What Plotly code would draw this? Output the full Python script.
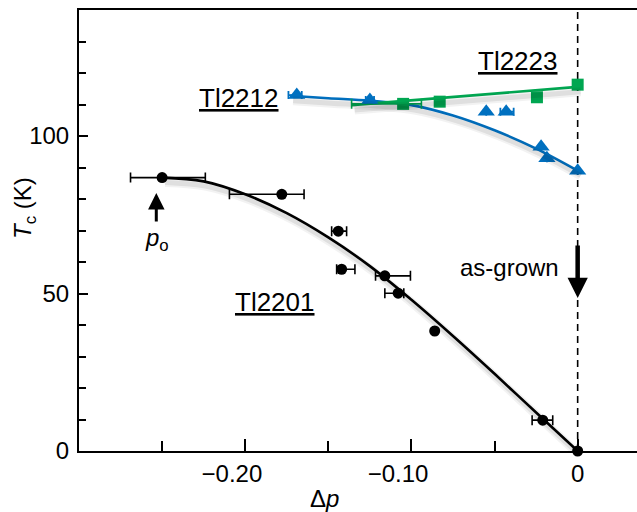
import plotly.graph_objects as go

# ---------------- data ----------------
# Tl2201 (black circles)
tl2201_dp = [-0.250, -0.178, -0.144, -0.142, -0.116, -0.108, -0.086, -0.021, 0.0]
tl2201_tc = [86.8, 81.5, 69.8, 57.7, 55.6, 50.1, 38.1, 9.8, 0.0]
tl2201_err_minus = [0.019, 0.0315, 0.004, 0.003, 0.0056, 0.008, 0.001, 0.0064, 0.0]
tl2201_err_plus = [0.026, 0.0134, 0.005, 0.008, 0.0154, 0.0034, 0.001, 0.006, 0.0]

# Tl2212 (blue triangles)
tl2212_dp = [-0.169, -0.125, -0.055, -0.043, -0.022, -0.0185, 0.0]
tl2212_tc = [113.0, 111.4, 107.7, 107.7, 96.6, 92.9, 89.0]
tl2212_err_minus = [0.005, 0.0025, 0.0, 0.0035, 0.0, 0.0, 0.0]
tl2212_err_plus = [0.003, 0.0025, 0.0, 0.0045, 0.0, 0.0, 0.0]

# Tl2223 (green squares)
tl2223_dp = [-0.105, -0.083, -0.0245, 0.0]
tl2223_tc = [110.2, 110.9, 112.3, 116.3]
tl2223_err_minus = [0.031, 0.0, 0.0, 0.0]
tl2223_err_plus = [0.011, 0.0, 0.0, 0.0]

# guide curves
fit2201_dp = [-0.25, -0.225, -0.20, -0.175, -0.15, -0.125, -0.10, -0.075, -0.05, -0.025, 0.0]
fit2201_tc = [86.8, 85.6, 81.5, 75.5, 67.8, 58.7, 48.0, 36.5, 24.5, 12.2, 0.0]
fit2212_dp = [-0.173, -0.15, -0.125, -0.10, -0.075, -0.05, -0.025, 0.0]
fit2212_tc = [112.8, 112.0, 111.2, 109.8, 106.5, 101.8, 96.0, 89.0]
fit2223_dp = [-0.136, 0.0]
fit2223_tc = [109.8, 115.6]

# axes
x_range = [-0.30, 0.0357]
y_range = [0, 140]
x_tickvals = [-0.20, -0.10, 0.0]
PAD = "\u00a0" * 4  # the minus sign hangs left of the centred number
x_ticktext = ["\u22120.20" + PAD, "\u22120.10" + PAD, "0"]
x_minorvals = [-0.25, -0.15, -0.05]
y_tickvals = [0, 50, 100]
y_ticktext = ["0", "50", "100"]

# annotation anchors
asgrown_tip, asgrown_tail = 48.6, 65.7
po_dp, po_tip, po_tail = -0.2535, 81.9, 72.4

BLACK = "#000000"
BLUE = "#0070C0"
GREEN = "#00A651"
FONT = "Liberation Sans, Arial, Helvetica, sans-serif"
FS = 24
FS_LABEL = 26

W, H = 637, 512
ML, MR, MT, MB = 79, 0, 10, 61
plot_w = W - ML - MR
plot_h = H - MT - MB

# shadow offset in pixels -> shifted ranges for an overlay axis pair
sx, sy = 3, 5
dx = sx * (x_range[1] - x_range[0]) / plot_w
dy = sy * (y_range[1] - y_range[0]) / plot_h
x2_range = [x_range[0] - dx, x_range[1] - dx]
y2_range = [y_range[0] + dy, y_range[1] + dy]

fig = go.Figure()

# soft shadows under guide curves
for xs, ys in [(fit2201_dp, fit2201_tc), (fit2212_dp, fit2212_tc), (fit2223_dp, fit2223_tc)]:
    for wdt, alpha in [(9, 0.05), (5, 0.08)]:
        fig.add_trace(go.Scatter(x=xs, y=ys, mode="lines", xaxis="x2", yaxis="y2",
                                 line=dict(color=f"rgba(0,0,0,{alpha})", width=wdt, shape="spline"),
                                 hoverinfo="skip", showlegend=False))

# dashed vertical line at Δp = 0
fig.add_trace(go.Scatter(x=[0, 0], y=y_range, mode="lines",
                         line=dict(color=BLACK, width=1.6, dash="7px,5px"),
                         hoverinfo="skip", showlegend=False, cliponaxis=False))

# guide curves
fig.add_trace(go.Scatter(x=fit2201_dp, y=fit2201_tc, mode="lines",
                         line=dict(color=BLACK, width=2.6, shape="spline", smoothing=1),
                         showlegend=False, cliponaxis=False))
fig.add_trace(go.Scatter(x=fit2212_dp, y=fit2212_tc, mode="lines",
                         line=dict(color=BLUE, width=2.6, shape="spline", smoothing=1),
                         showlegend=False, cliponaxis=False))
fig.add_trace(go.Scatter(x=fit2223_dp, y=fit2223_tc, mode="lines",
                         line=dict(color=GREEN, width=2.6),
                         showlegend=False, cliponaxis=False))

# data points
fig.add_trace(go.Scatter(x=tl2223_dp, y=tl2223_tc, mode="markers",
                         marker=dict(symbol="square", size=12, color=GREEN),
                         error_x=dict(type="data", symmetric=False, array=tl2223_err_plus,
                                      arrayminus=tl2223_err_minus, color=GREEN, thickness=1.6, width=5),
                         showlegend=False, cliponaxis=False))
fig.add_trace(go.Scatter(x=tl2212_dp, y=tl2212_tc, mode="markers",
                         marker=dict(symbol="triangle-up", size=15, color=BLUE),
                         error_x=dict(type="data", symmetric=False, array=tl2212_err_plus,
                                      arrayminus=tl2212_err_minus, color=BLUE, thickness=1.8, width=4),
                         showlegend=False, cliponaxis=False))
fig.add_trace(go.Scatter(x=tl2201_dp, y=tl2201_tc, mode="markers",
                         marker=dict(symbol="circle", size=11, color=BLACK),
                         error_x=dict(type="data", symmetric=False, array=tl2201_err_plus,
                                      arrayminus=tl2201_err_minus, color=BLACK, thickness=1.6, width=5),
                         showlegend=False, cliponaxis=False))

ul = '<span style="text-decoration:underline">{}</span>'
annotations = [
    dict(x=-0.2039, y=112.2, text=ul.format("Tl2212"), font=dict(family=FONT, size=FS_LABEL, color=BLACK)),
    dict(x=-0.0359, y=123.8, text=ul.format("Tl2223"), font=dict(family=FONT, size=FS_LABEL, color=BLACK)),
    dict(x=-0.182, y=47.3, text=ul.format("Tl2201"), font=dict(family=FONT, size=FS_LABEL, color=BLACK)),
    dict(x=-0.0409, y=58.4, text="as-grown", font=dict(family=FONT, size=FS, color=BLACK)),
    dict(x=-0.2528, y=67.0, text="<i>p</i><sub>o</sub>", font=dict(family=FONT, size=FS, color=BLACK)),
]
for a in annotations:
    a.update(xref="x", yref="y", showarrow=False, xanchor="center", yanchor="middle")

# arrows
annotations.append(dict(x=0, y=asgrown_tip, ax=0, ay=asgrown_tail, xref="x", yref="y",
                        axref="x", ayref="y", text="", showarrow=True, arrowhead=2,
                        arrowsize=0.9, arrowwidth=4.5, arrowcolor=BLACK, standoff=0))
annotations.append(dict(x=po_dp, y=po_tip, ax=po_dp, ay=po_tail, xref="x", yref="y",
                        axref="x", ayref="y", text="", showarrow=True, arrowhead=2,
                        arrowsize=1.1, arrowwidth=3, arrowcolor=BLACK, standoff=0))

# axis titles
annotations.append(dict(xref="paper", yref="paper", x=(24 - ML) / plot_w, y=(MT + plot_h - 208) / plot_h,
                        text="<i>T</i><sub>c</sub> (K)", textangle=-90, showarrow=False,
                        xanchor="center", yanchor="middle",
                        font=dict(family=FONT, size=FS, color=BLACK)))
annotations.append(dict(xref="paper", yref="paper", x=(324 - ML) / plot_w, y=(MT + plot_h - 499) / plot_h,
                        text="\u0394<i>p</i>", showarrow=False,
                        xanchor="center", yanchor="middle",
                        font=dict(family=FONT, size=FS, color=BLACK)))

fig.update_layout(
    width=W, height=H,
    margin=dict(l=ML, r=MR, t=MT, b=MB, pad=0),
    paper_bgcolor="white", plot_bgcolor="white",
    font=dict(family=FONT, size=FS, color=BLACK),
    showlegend=False,
    annotations=annotations,
    xaxis=dict(range=x_range, showgrid=False, zeroline=False,
               showline=True, linecolor=BLACK, linewidth=2, mirror=True,
               ticks="inside", ticklen=12, tickwidth=1.6, tickcolor=BLACK,
               tickmode="array", tickvals=x_tickvals, ticktext=x_ticktext,
               ticklabelstandoff=0,
               minor=dict(ticks="inside", ticklen=10, tickwidth=1.6, tickcolor=BLACK,
                          tickmode="array", tickvals=x_minorvals),
               tickfont=dict(family=FONT, size=FS, color=BLACK)),
    yaxis=dict(range=y_range, showgrid=False, zeroline=False,
               showline=True, linecolor=BLACK, linewidth=2, mirror=False,
               ticks="inside", ticklen=9, tickwidth=1.6, tickcolor=BLACK,
               tickmode="array", tickvals=y_tickvals, ticktext=y_ticktext,
               ticklabelstandoff=3,
               minor=dict(ticks="inside", ticklen=7, tickwidth=1.6, tickcolor=BLACK,
                          dtick=10, tick0=0),
               tickfont=dict(family=FONT, size=FS, color=BLACK)),
    xaxis2=dict(range=x2_range, overlaying="x", visible=False),
    yaxis2=dict(range=y2_range, overlaying="y", visible=False),
)

fig.write_html("out.html", config={"displayModeBar": False},
               post_script="document.body.style.margin='0';document.body.style.overflow='hidden';")
